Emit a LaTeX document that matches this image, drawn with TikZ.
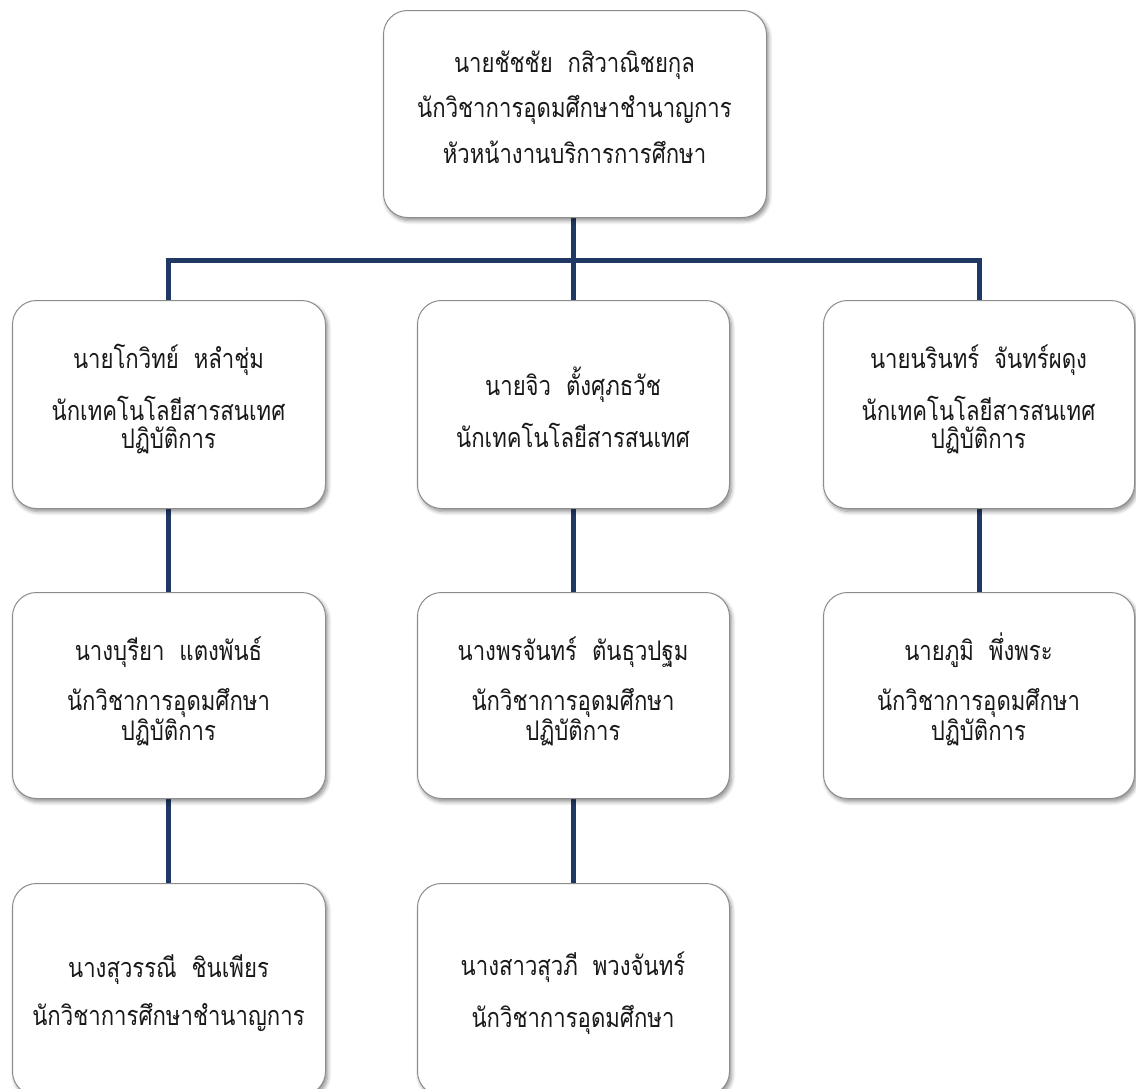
\documentclass[tikz,border=0pt]{standalone}
\usepackage{fontspec}
\newfontfamily\thaifont[Script=Thai, FakeStretch=0.82]{Loma}
\usetikzlibrary{shadows.blur}
\definecolor{linknavy}{RGB}{31,56,100}
\definecolor{cardedge}{RGB}{140,140,140}
\definecolor{inktext}{RGB}{25,25,25}
\tikzset{
  card/.style={draw=cardedge, line width=1pt, fill=white, rounded corners=24pt,
    inner sep=0pt, anchor=north west,
    blur shadow={shadow xshift=2pt, shadow yshift=-3pt, shadow blur radius=4pt,
      shadow blur steps=6, shadow opacity=45}},
  conn/.style={draw=linknavy, line width=5pt},
  ln/.style={font=\thaifont\fontsize{27}{27}\selectfont, text=inktext, anchor=base, inner sep=0pt}
}
\begin{document}
\begin{tikzpicture}[x=1pt,y=-1pt]
\useasboundingbox (0,0) rectangle (1136,1088);
\clip (0,0) rectangle (1136,1088);

% connectors (behind the cards)
\coordinate (bar) at (573,260);
\coordinate (colL) at (168,0);
\coordinate (colM) at (573,0);
\coordinate (colR) at (979,0);
\draw[conn] (colM |- 0,217) -- (colM |- bar);
\draw[conn] (colL |- 0,300) |- (colR |- bar) -- (colR |- 0,300);
\draw[conn] (colM |- bar) -- (colM |- 0,300);
\draw[conn] (colL |- 0,508) -- (colL |- 0,592);
\draw[conn] (colL |- 0,798) -- (colL |- 0,883);
\draw[conn] (colM |- 0,508) -- (colM |- 0,592);
\draw[conn] (colM |- 0,798) -- (colM |- 0,883);
\draw[conn] (colR |- 0,508) -- (colR |- 0,592);

% cards
\node[card, minimum width=383pt, minimum height=207pt] (head) at (383,10) {};
\node[card, minimum width=313pt, minimum height=208pt] (b21) at (12,300) {};
\node[card, minimum width=312pt, minimum height=208pt] (b22) at (417,300) {};
\node[card, minimum width=311pt, minimum height=208pt] (b23) at (823,300) {};
\node[card, minimum width=313pt, minimum height=206pt] (b31) at (12,592) {};
\node[card, minimum width=312pt, minimum height=206pt] (b32) at (417,592) {};
\node[card, minimum width=311pt, minimum height=206pt] (b33) at (823,592) {};
\node[card, minimum width=313pt, minimum height=212pt] (b41) at (12,883) {};
\node[card, minimum width=312pt, minimum height=212pt] (b42) at (417,883) {};

% texts
\node[ln] (t1a) at (574.5,72) {นายชัชชัย\ \ กสิวาณิชยกุล};
\node[ln] (t1b) at (574.5,117) {นักวิชาการอุดมศึกษาชำนาญการ};
\node[ln] (t1c) at (574.5,163) {หัวหน้างานบริการการศึกษา};

\node[ln] (t21a) at (168.5,368) {นายโกวิทย์\ \ หลำชุ่ม};
\node[ln] (t21b) at (168.5,420) {นักเทคโนโลยีสารสนเทศ};
\node[ln] (t21c) at (168.5,448) {ปฏิบัติการ};

\node[ln] (t22a) at (573,395) {นายจิว\ \ ตั้งศุภธวัช};
\node[ln] (t22b) at (573,447) {นักเทคโนโลยีสารสนเทศ};

\node[ln] (t23a) at (978.5,368) {นายนรินทร์\ \ จันทร์ผดุง};
\node[ln] (t23b) at (978.5,420) {นักเทคโนโลยีสารสนเทศ};
\node[ln] (t23c) at (978.5,448) {ปฏิบัติการ};

\node[ln] (t31a) at (168.5,660) {นางบุรียา\ \ แตงพันธ์};
\node[ln] (t31b) at (168.5,710) {นักวิชาการอุดมศึกษา};
\node[ln] (t31c) at (168.5,740) {ปฏิบัติการ};

\node[ln] (t32a) at (573,660) {นางพรจันทร์\ \ ตันธุวปฐม};
\node[ln] (t32b) at (573,710) {นักวิชาการอุดมศึกษา};
\node[ln] (t32c) at (573,740) {ปฏิบัติการ};

\node[ln] (t33a) at (978.5,660) {นายภูมิ\ \ พึ่งพระ};
\node[ln] (t33b) at (978.5,710) {นักวิชาการอุดมศึกษา};
\node[ln] (t33c) at (978.5,740) {ปฏิบัติการ};

\node[ln] (t41a) at (168.5,977) {นางสุวรรณี\ \ ชินเพียร};
\node[ln] (t41b) at (168.5,1025) {นักวิชาการศึกษาชำนาญการ};

\node[ln] (t42a) at (573,975) {นางสาวสุวภี\ \ พวงจันทร์};
\node[ln] (t42b) at (573,1027) {นักวิชาการอุดมศึกษา};
\end{tikzpicture}
\end{document}
